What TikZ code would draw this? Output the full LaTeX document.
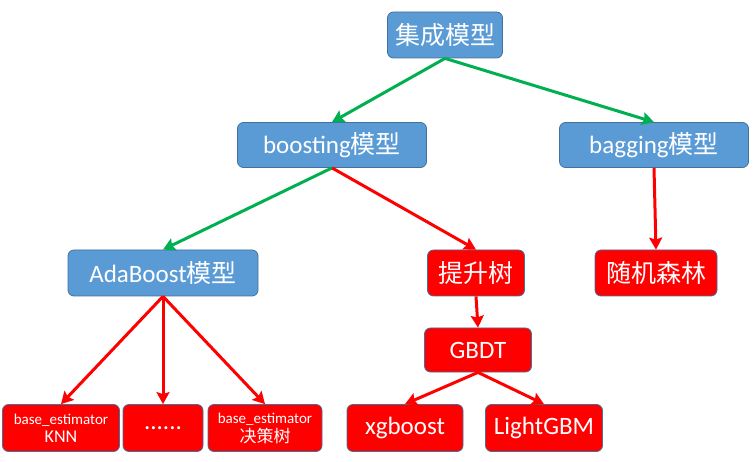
\documentclass[tikz,border=0pt]{standalone}
\usepackage{fontspec}
\setmainfont{Carlito}
\newfontfamily\cjk{Noto Sans CJK SC}
\usetikzlibrary{arrows.meta}
\definecolor{bl}{RGB}{91,155,213}
\definecolor{bd}{RGB}{65,113,156}
\definecolor{gr}{RGB}{0,176,80}
\begin{document}
\begin{tikzpicture}[x=1pt,y=-1pt,
 bx/.style={draw=bd,line width=0.8pt,fill=bl,rounded corners=6pt,text=white,font=\fontsize{25}{28}\selectfont,inner sep=0pt},
 rx/.style={draw=bd,line width=0.8pt,fill=red,rounded corners=6pt,text=white,font=\fontsize{25}{28}\selectfont,inner sep=0pt},
 ga/.style={draw=gr,line width=3pt,-{Stealth[length=12pt,width=13pt,inset=2pt]}},
 ra/.style={draw=red,line width=3pt,-{Stealth[length=12pt,width=13pt,inset=2pt]}}]
\useasboundingbox (0,0) rectangle (755,462);
\node[bx,minimum width=115pt,minimum height=46pt] (root) at (445,35) {\cjk 集成模型};
\node[bx,minimum width=189pt,minimum height=45pt] (boost) at (332,145) {boosting{\cjk 模型}};
\node[bx,minimum width=189pt,minimum height=45pt] (bag) at (654,145) {bagging{\cjk 模型}};
\node[bx,minimum width=190pt,minimum height=46pt] (ada) at (163,273) {AdaBoost{\cjk 模型}};
\node[rx,minimum width=97pt,minimum height=46pt] (tree) at (476,273) {\cjk 提升树};
\node[rx,minimum width=122pt,minimum height=46pt] (rf) at (656,273) {\cjk 随机森林};
\node[rx,minimum width=107pt,minimum height=44pt] (gbdt) at (478,350) {GBDT};
\node[rx,minimum width=116pt,minimum height=47pt] (xgb) at (405,428) {xgboost};
\node[rx,minimum width=117pt,minimum height=47pt] (lgb) at (544,428) {LightGBM};
\node[rx,minimum width=117pt,minimum height=47pt,align=center,font=\fontsize{15}{17}\selectfont] (knn) at (61,428) {base\_estimator\\[1pt]{\fontsize{18}{18}\selectfont KNN}};
\node[rx,minimum width=80pt,minimum height=47pt] (dots) at (163,428) {......};
\node[rx,minimum width=114pt,minimum height=47pt,align=center,font=\fontsize{15}{17}\selectfont] (dt) at (265,428) {base\_estimator\\[2pt]{\fontsize{17}{18}\selectfont\cjk 决策树}};
\draw[ga] (root.south) -- (boost.north);
\draw[ga] (root.south) -- (bag.north);
\draw[ga] (boost.south) -- (ada.north);
\draw[ra] (boost.south) -- (tree.north);
\draw[ra] (bag.south) -- (rf.north);
\draw[ra] (ada.south) -- (knn.north);
\draw[ra] (ada.south) -- (dots.north);
\draw[ra] (ada.south) -- (dt.north);
\draw[ra] (tree.south) -- (gbdt.north);
\draw[ra] (gbdt.south) -- (xgb.north);
\draw[ra] (gbdt.south) -- (lgb.north);
\end{tikzpicture}
\end{document}
